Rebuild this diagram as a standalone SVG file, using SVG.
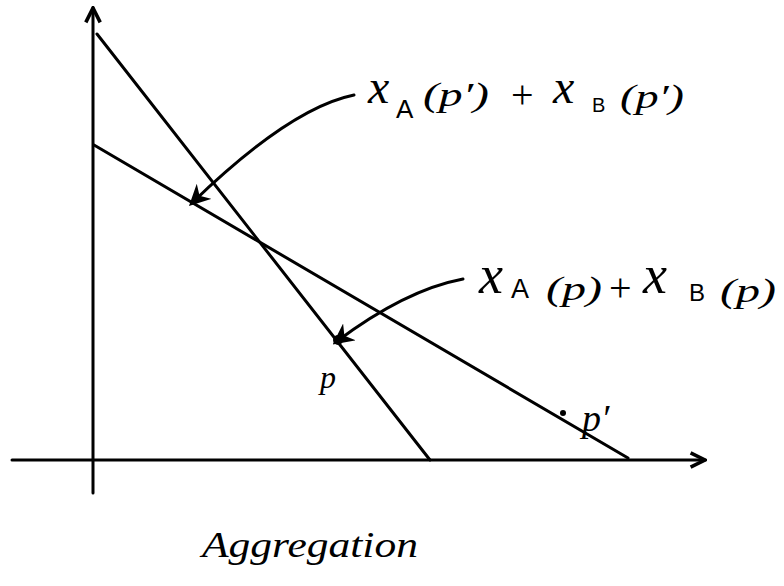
<svg xmlns="http://www.w3.org/2000/svg" width="784" height="586" viewBox="0 0 784 586">
<style>
.ln{stroke:#000;stroke-width:3;fill:none;stroke-linecap:round}
.t{font-family:"Liberation Serif",serif;font-style:italic;fill:#000}
.m{font-size:48px}
.s{font-size:24px;font-style:normal;font-family:"Liberation Sans",sans-serif}
.p{font-size:34px}
.pl{font-size:40px;font-style:normal}
</style>
<defs>
<marker id="ah" viewBox="0 0 10 10" refX="9" refY="5" markerWidth="6" markerHeight="6" orient="auto" markerUnits="strokeWidth">
<path d="M1,1 L9,5 L1,9" fill="none" stroke="#000" stroke-width="2"/>
</marker>
<marker id="ah2" viewBox="0 0 10 10" refX="8" refY="5" markerWidth="7" markerHeight="7" orient="auto" markerUnits="strokeWidth">
<path d="M0,0 L10,5 L0,10 L3,5 Z" fill="#000"/>
</marker>
</defs>
<rect width="784" height="586" fill="#fff"/>
<g id="axes">
<line class="ln" x1="93" y1="493" x2="93" y2="8" marker-end="url(#ah)"/>
<line class="ln" x1="12" y1="460" x2="705" y2="460" marker-end="url(#ah)"/>
</g>
<g id="demand-lines">
<line class="ln" x1="97" y1="34" x2="430" y2="460"/>
<line class="ln" x1="94" y1="145" x2="628" y2="458"/>
</g>
<g id="connectors">
<path class="ln" d="M354,95 Q290,108 192,203" marker-end="url(#ah2)"/>
<path class="ln" d="M463,279 Q405,290 336,342" marker-end="url(#ah2)"/>
</g>
<g id="point-p">
<circle cx="338" cy="340" r="5" fill="#000"/>
<text class="t" x="320" y="388" style="font-size:32px">p</text>
</g>
<g id="point-pprime">
<circle cx="563" cy="413" r="3" fill="#000"/>
<text class="t" x="582" y="431" style="font-size:38px">p′</text>
</g>
<g id="label-pprime" class="t">
<text class="m" x="368" y="103">x</text>
<text class="s" x="396" y="118" style="font-size:26px">A</text>
<text class="p" x="423" y="106" textLength="66" lengthAdjust="spacingAndGlyphs">(p′)</text>
<text class="pl" x="511" y="108">+</text>
<text class="m" x="553" y="103">x</text>
<text class="s" x="592" y="112" style="font-size:20px">B</text>
<text class="p" x="620" y="108" textLength="64" lengthAdjust="spacingAndGlyphs">(p′)</text>
</g>
<g id="label-p" class="t">
<text class="m" x="479" y="293" style="font-size:54px">x</text>
<text class="s" x="511" y="298" style="font-size:27px">A</text>
<text class="p" x="546" y="300" textLength="56" lengthAdjust="spacingAndGlyphs">(p)</text>
<text class="pl" x="609" y="301">+</text>
<text class="m" x="643" y="293" style="font-size:54px">x</text>
<text class="s" x="689" y="301" style="font-size:24px">B</text>
<text class="p" x="720" y="302" textLength="56" lengthAdjust="spacingAndGlyphs">(p)</text>
</g>
<g id="caption">
<text class="t" x="202" y="557" style="font-size:36px" textLength="216" lengthAdjust="spacingAndGlyphs">Aggregation</text>
</g>
</svg>
